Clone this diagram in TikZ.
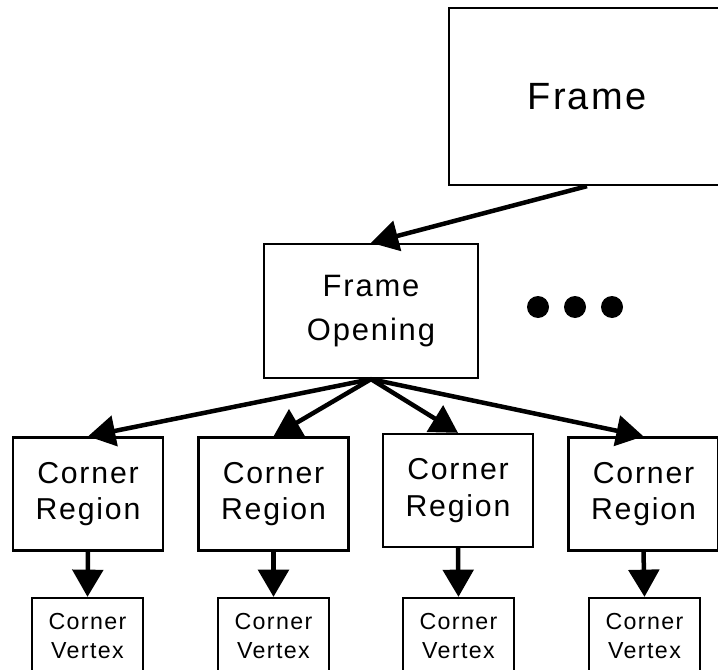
\documentclass[tikz,border=0pt]{standalone}
\usepackage{fontspec}
\setmainfont{Liberation Sans}[LetterSpace=6.0]
\usepackage{tikz}
\usetikzlibrary{shapes, positioning, arrows.meta}

\tikzset{
    box/.style={draw, line width=1.6pt, rectangle, align=center, inner sep=0pt},
    bigbox/.style={box, minimum width=6.9cm, minimum height=4.425cm, font=\fontsize{27}{33}\selectfont},
    openbox/.style={box, minimum width=5.35cm, minimum height=3.35cm, font=\fontsize{22}{31}\selectfont},
    regionbox/.style={box, minimum width=3.75cm, minimum height=2.825cm, font=\fontsize{21.5}{26}\selectfont},
    vertexbox/.style={box, minimum width=2.775cm, minimum height=1.9cm, font=\fontsize{16.5}{21}\selectfont},
    link/.style={line width=3.2pt, -{Triangle[length=0.68cm, width=0.76cm]}},
}

\begin{document}
\begin{tikzpicture}[x=0.025cm, y=-0.025cm]
        \useasboundingbox (0, 0) rectangle (718, 670);
        \clip (0, 0) rectangle (718, 670);

        \node[bigbox] (frame) at (587, 96.5) {Frame};
        \node[openbox] (opening) at (371, 311) {Frame\\Opening};

        \node[regionbox] (r1) at (88, 494) {Corner\\Region};
        \node[regionbox] (r2) at (273.5, 494) {Corner\\Region};
        \node[regionbox] (r3) at (458, 490.5) {Corner\\Region};
        \node[regionbox] (r4) at (643.5, 494) {Corner\\Region};

        \node[vertexbox] (v1) at (87.5, 636) {Corner\\Vertex};
        \node[vertexbox] (v2) at (273.5, 636) {Corner\\Vertex};
        \node[vertexbox] (v3) at (458.5, 636) {Corner\\Vertex};
        \node[vertexbox] (v4) at (644.5, 636) {Corner\\Vertex};

        % more openings
        \fill (538, 307) circle (11);
        \fill (575, 307) circle (11);
        \fill (612, 307) circle (11);

        \draw[link] (frame.south) to (opening.north);
        \draw[link] (opening.south) to (r1.north);
        \draw[link] (opening.south) to (r2.north);
        \draw[link] (opening.south) to (r3.north);
        \draw[link] (opening.south) to (r4.north);
        \draw[link] (r1.south) to (v1.north);
        \draw[link] (r2.south) to (v2.north);
        \draw[link] (r3.south) to (v3.north);
        \draw[link] (r4.south) to (v4.north);
    \end{tikzpicture}
\end{document}
